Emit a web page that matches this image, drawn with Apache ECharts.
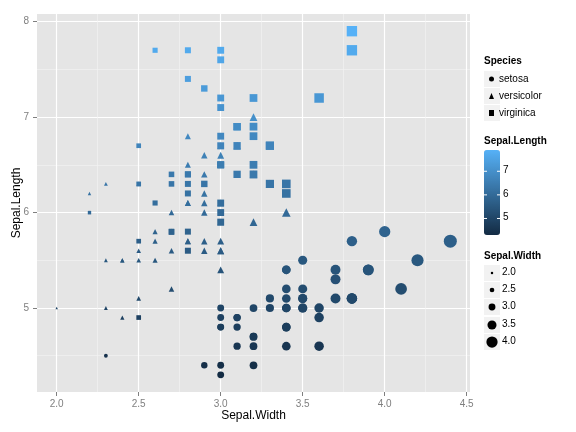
<!DOCTYPE html>
<html>
<head>
<meta charset="utf-8">
<script src="https://cdn.jsdelivr.net/npm/echarts@6/dist/echarts.min.js"></script>
<style>html,body{margin:0;padding:0;background:#fff}#chart{width:576px;height:432px}</style>
</head>
<body>
<div id="chart"></div>
<script>
// iris: Sepal.Length / Sepal.Width per species
const setosaLength = [5.1,4.9,4.7,4.6,5.0,5.4,4.6,5.0,4.4,4.9,5.4,4.8,4.8,4.3,5.8,5.7,5.4,5.1,5.7,5.1,5.4,5.1,4.6,5.1,4.8,5.0,5.0,5.2,5.2,4.7,4.8,5.4,5.2,5.5,4.9,5.0,5.5,4.9,4.4,5.1,5.0,4.5,4.4,5.0,5.1,4.8,5.1,4.6,5.3,5.0];
const setosaWidth  = [3.5,3.0,3.2,3.1,3.6,3.9,3.4,3.4,2.9,3.1,3.7,3.4,3.0,3.0,4.0,4.4,3.9,3.5,3.8,3.8,3.4,3.7,3.6,3.3,3.4,3.0,3.4,3.5,3.4,3.2,3.1,3.4,4.1,4.2,3.1,3.2,3.5,3.6,3.0,3.4,3.5,2.3,3.2,3.5,3.8,3.0,3.8,3.2,3.7,3.3];
const versicolorLength = [7.0,6.4,6.9,5.5,6.5,5.7,6.3,4.9,6.6,5.2,5.0,5.9,6.0,6.1,5.6,6.7,5.6,5.8,6.2,5.6,5.9,6.1,6.3,6.1,6.4,6.6,6.8,6.7,6.0,5.7,5.5,5.5,5.8,6.0,5.4,6.0,6.7,6.3,5.6,5.5,5.5,6.1,5.8,5.0,5.6,5.7,5.7,6.2,5.1,5.7];
const versicolorWidth  = [3.2,3.2,3.1,2.3,2.8,2.8,3.3,2.4,2.9,2.7,2.0,3.0,2.2,2.9,2.9,3.1,3.0,2.7,2.2,2.5,3.2,2.8,2.5,2.8,2.9,3.0,2.8,3.0,2.9,2.6,2.4,2.4,2.7,2.7,3.0,3.4,3.1,2.3,3.0,2.5,2.6,3.0,2.6,2.3,2.7,3.0,2.9,2.9,2.5,2.8];
const virginicaLength = [6.3,5.8,7.1,6.3,6.5,7.6,4.9,7.3,6.7,7.2,6.5,6.4,6.8,5.7,5.8,6.4,6.5,7.7,7.7,6.0,6.9,5.6,7.7,6.3,6.7,7.2,6.2,6.1,6.4,7.2,7.4,7.9,6.4,6.3,6.1,7.7,6.3,6.4,6.0,6.9,6.7,6.9,5.8,6.8,6.7,6.7,6.3,6.5,6.2,5.9];
const virginicaWidth  = [3.3,2.7,3.0,2.9,3.0,3.0,2.5,2.9,2.5,3.6,3.2,2.7,3.0,2.5,2.8,3.2,3.0,3.8,2.6,2.2,3.2,2.8,2.8,2.7,3.3,3.2,2.8,3.0,2.8,3.0,2.8,3.8,2.8,2.8,2.6,3.0,3.4,3.1,3.0,3.1,3.1,3.1,2.7,3.2,3.3,3.0,2.5,3.0,3.4,3.0];

const species = ['setosa', 'versicolor', 'virginica'];
const xMajor = [2.0, 2.5, 3.0, 3.5, 4.0, 4.5];
const xMinor = [2.25, 2.75, 3.25, 3.75, 4.25];
const yMajor = [5, 6, 7, 8];
const yMinor = [4.5, 5.5, 6.5, 7.5];
const colorBreaks = [5, 6, 7];
const sizeBreaks = [2.0, 2.5, 3.0, 3.5, 4.0];

const pairs = (w, l) => w.map((v, i) => [v, l[i]]);
const sizeOf = w => 2.5 + 10.5 * (w - 2.0) / 2.4;

let chart = echarts.init(document.getElementById('chart'));
const font = 'Liberation Sans, Arial, sans-serif';

// legend decorations
let g = [];
g.push({type: 'text', left: 484, top: 56, style: {text: 'Species', font: 'bold 10px ' + font, fill: '#000'}});
[79, 96, 113].forEach(c => g.push({type: 'rect', shape: {x: 484, y: c - 8, width: 16, height: 16}, style: {fill: '#F2F2F2'}}));
g.push({type: 'text', left: 484, top: 136, style: {text: 'Sepal.Length', font: 'bold 10px ' + font, fill: '#000'}});
colorBreaks.forEach(v => {
    let y = 235 - (v - 4.3) / 3.6 * 85;
    g.push({type: 'line', z: 100, shape: {x1: 484, y1: y, x2: 487, y2: y}, style: {stroke: '#fff', lineWidth: 1}});
    g.push({type: 'line', z: 100, shape: {x1: 497, y1: y, x2: 500, y2: y}, style: {stroke: '#fff', lineWidth: 1}});
    g.push({type: 'text', left: 503, top: y - 6, style: {text: String(v), font: '10px ' + font, fill: '#000'}});
});
g.push({type: 'text', left: 484, top: 251, style: {text: 'Sepal.Width', font: 'bold 10px ' + font, fill: '#000'}});
[273, 290, 307, 325, 342].forEach((c, i) => {
    g.push({type: 'rect', shape: {x: 484, y: c - 8, width: 16, height: 16}, style: {fill: '#F2F2F2'}});
    g.push({type: 'circle', z: 100, shape: {cx: 492, cy: c, r: sizeOf(sizeBreaks[i]) / 2}, style: {fill: '#000'}});
    g.push({type: 'text', left: 502, top: c - 6, style: {text: sizeBreaks[i].toFixed(1), font: '10px ' + font, fill: '#000'}});
});

chart.setOption({
    animation: false,
    textStyle: {fontFamily: font},
    grid: {left: 37, right: 106, top: 14, bottom: 40, show: true, backgroundColor: '#E5E5E5', borderWidth: 0,
           outerBoundsMode: 'none', containLabel: false},
    xAxis: [
        {type: 'value', min: 1.88, max: 4.52, name: 'Sepal.Width', nameLocation: 'middle', nameGap: 18,
         nameMoveOverlap: false,
         nameTextStyle: {color: '#000', fontSize: 12},
         axisLine: {show: false},
         axisTick: {show: true, length: 4, lineStyle: {color: '#7F7F7F'}, customValues: xMajor},
         axisLabel: {color: '#7F7F7F', fontSize: 10, margin: 7, customValues: xMajor, formatter: v => v.toFixed(1)},
         splitLine: {show: true, lineStyle: {color: '#fff', width: 1.2}}},
        {type: 'value', min: 1.88, max: 4.52, position: 'top',
         axisLine: {show: false}, axisLabel: {show: false},
         axisTick: {show: false, customValues: xMinor},
         splitLine: {show: true, lineStyle: {color: '#F4F4F4', width: 0.6}}}
    ],
    yAxis: [
        {type: 'value', min: 4.12, max: 8.08, name: 'Sepal.Length', nameLocation: 'middle', nameGap: 14,
         nameMoveOverlap: false,
         nameTextStyle: {color: '#000', fontSize: 12},
         axisLine: {show: false},
         axisTick: {show: true, length: 4, lineStyle: {color: '#7F7F7F'}, customValues: yMajor},
         axisLabel: {color: '#7F7F7F', fontSize: 10, margin: 8, customValues: yMajor},
         splitLine: {show: true, lineStyle: {color: '#fff', width: 1.2}}},
        {type: 'value', min: 4.12, max: 8.08, position: 'right',
         axisLine: {show: false}, axisLabel: {show: false},
         axisTick: {show: false, customValues: yMinor},
         splitLine: {show: true, lineStyle: {color: '#F4F4F4', width: 0.6}}}
    ],
    legend: {
        orient: 'vertical', left: 489, top: 73, padding: 0,
        itemWidth: 5, itemHeight: 6, itemGap: 5,
        textStyle: {fontSize: 10, color: '#000', lineHeight: 12},
        data: [
            {name: 'setosa', icon: 'circle', itemStyle: {color: '#000'}},
            {name: 'versicolor', icon: 'triangle', itemStyle: {color: '#000'}},
            {name: 'virginica', icon: 'rect', itemStyle: {color: '#000'}}
        ]
    },
    visualMap: [
        {type: 'continuous', dimension: 1, min: 4.3, max: 7.9, seriesIndex: [0, 1, 2],
         inRange: {color: ['#132B43', '#56B1F7']}, calculable: false,
         left: 484, top: 150, itemWidth: 16, itemHeight: 85, padding: 0},
        {type: 'continuous', dimension: 0, min: 2.0, max: 4.4, seriesIndex: [0, 1, 2], show: false,
         inRange: {symbolSize: [sizeOf(2.0), sizeOf(4.4)]}}
    ],
    graphic: g,
    series: [
        {name: species[0], type: 'scatter', symbol: 'circle', itemStyle: {opacity: 1}, data: pairs(setosaWidth, setosaLength)},
        {name: species[1], type: 'scatter', symbol: 'triangle', itemStyle: {opacity: 1}, data: pairs(versicolorWidth, versicolorLength)},
        {name: species[2], type: 'scatter', symbol: 'rect', itemStyle: {opacity: 1}, data: pairs(virginicaWidth, virginicaLength)}
    ]
});
</script>
</body>
</html>
